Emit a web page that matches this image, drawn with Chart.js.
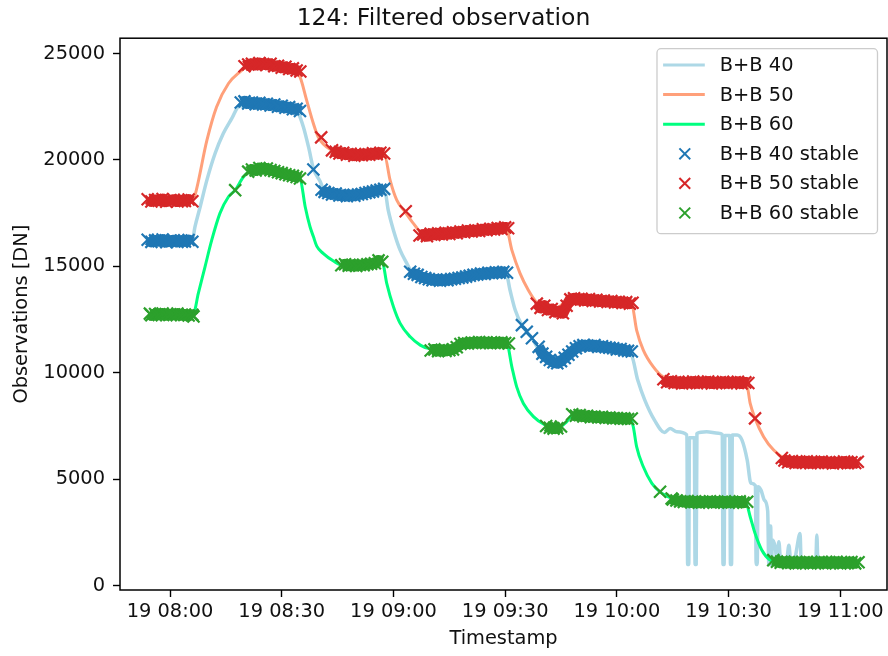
<!DOCTYPE html>
<html>
<head>
<meta charset="utf-8">
<script src="https://cdn.jsdelivr.net/npm/chart.js@4.4.1/dist/chart.umd.min.js"></script>
<style>
  html, body { margin: 0; padding: 0; background: #fff; }
  #wrap { width: 888px; height: 656px; }
</style>
</head>
<body>
<div id="wrap"><canvas id="c" width="888" height="656"></canvas></div>
<script>
// ---- Data (time = minutes after midnight, values in DN) ----
const chartTitle = '124: Filtered observation';
const seriesNames = ['B+B 40', 'B+B 50', 'B+B 60'];
const xTickTimes = [480, 510, 540, 570, 600, 630, 660];
const xTickLabels = ['19 08:00', '19 08:30', '19 09:00', '19 09:30', '19 10:00', '19 10:30', '19 11:00'];
const yTickValues = [0, 5000, 10000, 15000, 20000, 25000];

// Continuous (filtered) observation lines
const line40T = [474,486,486.7,488.1,489.9,492.1,494.3,496.6,498.4,505,513,514.5,515.8,517.2,518.5,520.3,521.5,530,537.7,538.6,540.0,541.8,543.6,544.9,552,570.4,571.3,572.7,574.5,575.8,577.2,579.4,583.9,591,603.9,605.6,607.5,610.1,612.8,614.3,616.1,618.8,619.0,619.3,619.5,620.8,621.0,621.3,621.5,624.1,627.3,628.3,628.5,628.8,629.0,630.3,630.5,630.8,631.0,632.3,633.6,635.0,636.0,637.2,637.4,637.7,637.9,638.7,639.6,640.5,640.8,641.1,641.3,641.5,641.8,642.5,643.0,643.5,644.0,645.5,646.2,646.7,647.8,649.2,649.5,653.4,653.7,654.0,664.7];
const line40V = [16200,16250,16860,17800,19050,20300,21240,21950,22490,22650,22400,22180,21560,20610,19600,19000,18550,18350,18500,17640,16700,15760,15140,14740,14350,14550,13890,12950,12240,11930,11620,10990,10440,11300,10800,9660,8720,7780,7200,7390,7230,7080,1000,1000,6950,6950,1000,1000,7150,7230,7160,7100,1000,1000,7050,7050,1000,1000,7080,7080,6840,5900,4810,4700,1000,1000,4650,4490,4020,3500,1000,1000,2800,1000,2150,1830,1200,2070,1100,1100,1900,1150,1300,2450,1050,1050,2380,1050,1000];

const line50T = [474,486,486.7,489.9,492.5,495.7,498.8,500.6,507,513,514.9,516.7,518.5,519.8,523,530,537.7,539.1,540.9,543.1,545.4,547.6,560,570.4,571.8,574.0,576.2,578.5,583,587,604,605.3,607.1,609.8,612.5,620,634.9,635.8,637.1,639.4,642.1,644.8,650,664.7];
const line50V = [18100,18100,18345,20920,22490,23590,24140,24370,24480,24250,23900,22800,21710,21080,20500,20250,20150,19050,18110,17560,17010,16600,16650,16700,15760,14670,13890,13300,12950,13400,13200,12010,11070,10280,9800,9550,9400,8560,7860,7000,6370,6000,5820,5800];

const line60T = [474.6,486.3,487.6,489.4,491.2,493.4,495.7,497.5,499.7,501.0,508,514.9,516.3,517.6,518.5,519.4,521.2,523.9,526.1,537,538.2,540.0,541.8,544.5,547.2,549.4,556,558,570.4,571.8,573.1,574.9,577.6,580.7,583.9,586.5,588.3,603.6,604.4,605.3,607.1,609.4,611.6,614.7,617,634.6,635.8,637.1,638.9,641.1,642.9,664.9];
const line60V = [12750,12800,13730,14980,16230,17490,18270,18580,19200,19400,19500,19150,17800,16860,16400,15950,15600,15250,15060,15200,14200,13100,12320,11690,11300,11150,11080,11350,11400,10280,9340,8560,7940,7550,7390,7700,8050,7860,7470,6530,5590,4810,4410,4100,3950,3900,3240,2460,1680,1210,1130,1100];

// Stable observations (null = gap between stable periods)
const stable40T = [474,475,476,477,478,479,480,481,482,483,484,485,486, 492,
  499,500,501,502,503,504,505,506,507,508,509,510,511,512,513,514,514.9, 517,
  518.5, 519.5,
  520.7,521.5,522.5,523.5,524.5,525.5,526.5,527.5,528.5,529.5,530.5,531.5,532.5,533.5,534.5,535.5,536.5,537.5, 541,
  544.5,545.5,546.5,547.5,548.5,549.5,550.5,551.5,552.5,553.5,554.5,555.5,556.5,557.5,558.5,559.5,560.5,561.5,562.5,563.5,564.5,565.5,566.5,567.5,568.5,569.5,570.5, 573,
  574.5, 575.1, 575.8, 576.5, 577.2, 578,
  579,580,581,582,583,584,585,586,587,588,589,590,591,592,593,594,595,596,597,598,599,600,601,602,603,604];
const stable40V = [16250,16150,16220,16180,16260,16140,16200,16230,16150,16210,16170,16240,16160, null,
  22700,22750,22650,22700,22620,22680,22600,22640,22560,22600,22500,22540,22450,22480,22380,22400,22300, null,
  19550, null,
  18600,18500,18450,18380,18420,18330,18360,18300,18350,18320,18380,18400,18450,18480,18520,18560,18600,18640, null,
  14750,14650,14600,14500,14450,14400,14350,14380,14330,14370,14350,14400,14420,14450,14480,14520,14560,14600,14620,14660,14640,14700,14680,14720,14700,14740,14700, null,
  12240, null, 11930, null, 11620, null,
  11220,10900,10750,10600,10500,10450,10550,10700,10850,11000,11150,11250,11300,11280,11250,11300,11220,11250,11200,11180,11150,11100,11120,11050,11030,11000];

const stable50T = [474,475,476,477,478,479,480,481,482,483,484,485,486, 493,
  500,501,502,503,504,505,506,507,508,509,510,511,512,513,514,515, 518,
  520.6, 522,
  523.5,524.5,525.5,526.5,527.5,528.5,529.5,530.5,531.5,532.5,533.5,534.5,535.5,536.5,537.5, 540,
  543.3, 545,
  547,548,549,550,551,552,553,554,555,556,557,558,559,560,561,562,563,564,565,566,567,568,569,570,570.8, 574,
  578.5,579.5,580.5,581.5,582.5,583.5,584.5,585.5,586.5,587.5,588.5,589.5,590.5,591.5,592.5,593.5,594.5,595.5,596.5,597.5,598.5,599.5,600.5,601.5,602.5,603.5,604.2, 608,
  612.5,613.5,614.5,615.5,616.5,617.5,618.5,619.5,620.5,621.5,622.5,623.5,624.5,625.5,626.5,627.5,628.5,629.5,630.5,631.5,632.5,633.5,634.5,635.3, 636,
  637.1, 640,
  644.3,645,646,647,648,649,650,651,652,653,654,655,656,657,658,659,660,661,662,663,664,664.7];
const stable50V = [18150,18050,18120,18080,18160,18040,18100,18130,18050,18110,18070,18140,18060, null,
  24400,24480,24520,24460,24550,24500,24470,24520,24400,24420,24330,24380,24270,24300,24200,24150, null,
  21060, null,
  20450,20380,20300,20340,20250,20290,20200,20260,20220,20280,20240,20310,20270,20340,20300, null,
  17590, null,
  16450,16500,16420,16530,16480,16550,16500,16580,16520,16600,16560,16640,16600,16680,16640,16700,16660,16740,16700,16760,16730,16800,16760,16830,16790, null,
  13250,13050,13150,12950,13000,12850,12900,12800,13150,13450,13500,13420,13480,13400,13460,13380,13430,13350,13400,13330,13370,13300,13340,13280,13320,13250,13290, null,
  9700,9560,9600,9520,9580,9500,9560,9520,9590,9510,9570,9530,9590,9500,9560,9520,9580,9510,9560,9530,9580,9500,9550,9520, null,
  7860, null,
  6000,5880,5800,5850,5760,5830,5780,5840,5750,5820,5770,5830,5760,5810,5740,5800,5770,5830,5750,5800,5760,5820];

const stable60T = [474.6,475,476,477,478,479,480,481,482,483,484,485,486,486.3, 492,
  497.5, 499,
  501,502,503,504,505,506,507,508,509,510,511,512,513,514,514.9, 520,
  526,527,528,529,530,531,532,533,534,535,536,537, 545,
  550,551,552,553,554,555,556,557,558,559,560,561,562,563,564,565,566,567,568,569,570,571, 578,
  581,582,583,584,585, 586.5,
  588,589,590,591,592,593,594,595,596,597,598,599,600,601,602,603,604, 608,
  611.6, 613,
  614.7,615,616,617,618,619,620,621,622,623,624,625,626,627,628,629,630,631,632,633,634,635, 638,
  642,643,644,645,646,647,648,649,650,651,652,653,654,655,656,657,658,659,660,661,662,663,664,664.9];
const stable60V = [12780,12700,12760,12720,12790,12700,12750,12720,12780,12700,12740,12690,12730,12650, null,
  18580, null,
  19450,19550,19500,19620,19560,19600,19520,19480,19420,19380,19330,19280,19250,19200,19130, null,
  15050,15100,15030,15080,15020,15070,15050,15100,15120,15150,15280,15220, null,
  11050,11100,11020,11080,11030,11060,11100,11200,11350,11400,11380,11420,11400,11450,11400,11430,11390,11420,11400,11430,11400,11380, null,
  7500,7420,7380,7400,7480, null,
  8050,7980,8020,7950,7980,7920,7950,7900,7930,7880,7900,7860,7880,7840,7860,7830,7850, null,
  4410, null,
  4100,4050,4000,3960,3930,3980,3910,3960,3900,3950,3920,3970,3900,3950,3910,3960,3900,3940,3920,3960,3900,3940, null,
  1200,1130,1080,1130,1060,1120,1050,1110,1060,1120,1050,1100,1060,1120,1050,1110,1060,1120,1050,1100,1060,1110,1050,1100];

// ---- Styling ----
const FONT = 'DejaVu Sans';
const lineColors = ['#add8e6', '#ffa07a', '#00ff7f'];
const stableColors = ['#1f77b4', '#d62728', '#2ca02c'];

function pts(T, V) { return T.map((t, i) => ({ x: t, y: V[i] })); }

const lineData = [pts(line40T, line40V), pts(line50T, line50V), pts(line60T, line60V)];
const stableData = [pts(stable40T, stable40V), pts(stable50T, stable50V), pts(stable60T, stable60V)];

const datasets = [];
seriesNames.forEach((name, i) => {
  datasets.push({
    label: name, data: lineData[i], kind: 'line',
    borderColor: lineColors[i], backgroundColor: lineColors[i],
    borderWidth: i === 0 ? 3.5 : 3, pointRadius: 0, cubicInterpolationMode: 'monotone',
    borderJoinStyle: 'round', fill: false, order: 6 - i
  });
});
seriesNames.forEach((name, i) => {
  datasets.push({
    label: name + ' stable', data: stableData[i], kind: 'stable',
    borderColor: stableColors[i], backgroundColor: stableColors[i],
    borderWidth: 11, borderJoinStyle: 'round', borderCapStyle: 'butt', tension: 0,
    pointStyle: 'crossRot', pointRadius: 8.5, pointBorderWidth: 2.2,
    pointBorderColor: stableColors[i], fill: false, spanGaps: false, order: 3 - i
  });
});

const framePlugin = {
  id: 'frameAndLegend',
  afterDraw(chart) {
    const ctx = chart.ctx, a = chart.chartArea;
    ctx.save();
    ctx.strokeStyle = '#000';
    ctx.lineWidth = 1.5;
    ctx.strokeRect(a.left, a.top, a.right - a.left, a.bottom - a.top);

    // legend (matplotlib style, upper right)
    const bw = 220.5, bh = 185;
    const bx = a.right - 10 - bw, by = a.top + 10;
    ctx.beginPath();
    if (ctx.roundRect) ctx.roundRect(bx + 0.5, by + 0.5, bw, bh, 4); else ctx.rect(bx + 0.5, by + 0.5, bw, bh);
    ctx.fillStyle = 'rgba(255,255,255,0.8)';
    ctx.fill();
    ctx.strokeStyle = '#cccccc';
    ctx.lineWidth = 1.3;
    ctx.stroke();

    const ds = chart.data.datasets;
    ctx.font = '19.4px "' + FONT + '"';
    ctx.textBaseline = 'middle';
    ctx.textAlign = 'left';
    ds.forEach((d, i) => {
      const y = by + 16.8 + i * 29.6;
      if (d.kind === 'line') {
        ctx.strokeStyle = d.borderColor;
        ctx.lineWidth = 3;
        ctx.beginPath();
        ctx.moveTo(bx + 6.6, y);
        ctx.lineTo(bx + 48.3, y);
        ctx.stroke();
      } else {
        const cx = bx + 28.3, r = 5.4;
        ctx.strokeStyle = d.borderColor;
        ctx.lineWidth = 2;
        ctx.beginPath();
        ctx.moveTo(cx - r, y - r); ctx.lineTo(cx + r, y + r);
        ctx.moveTo(cx - r, y + r); ctx.lineTo(cx + r, y - r);
        ctx.stroke();
      }
      ctx.fillStyle = '#111';
      ctx.fillText(d.label, bx + 63.3, y + 1);
    });
    ctx.restore();
  }
};

new Chart(document.getElementById('c'), {
  type: 'line',
  data: { datasets },
  plugins: [framePlugin],
  options: {
    responsive: false,
    devicePixelRatio: 1,
    animation: false,
    events: [],
    layout: { autoPadding: false, padding: { left: 0, right: 1, top: 0, bottom: 0 } },
    plugins: {
      legend: { display: false },
      tooltip: { enabled: false },
      title: {
        display: true, text: chartTitle, color: '#111',
        font: { family: FONT, size: 23.5, weight: 'normal' },
        padding: { top: 5, bottom: 5 }
      }
    },
    scales: {
      x: {
        type: 'linear', min: 466.57, max: 672.54, bounds: 'data',
        afterFit: (s) => { s.height = 66; s.paddingLeft = 0; s.paddingRight = 0; },
        afterBuildTicks: (s) => { s.ticks = xTickTimes.map(v => ({ value: v })); },
        grid: { display: true, drawOnChartArea: false, drawTicks: true, tickLength: 7, tickWidth: 1.4, tickColor: '#000' },
        border: { display: false },
        ticks: {
          autoSkip: false, maxRotation: 0, padding: 3, color: '#111',
          font: { family: FONT, size: 19.4 },
          callback: (v) => { const k = xTickTimes.indexOf(v); return k >= 0 ? xTickLabels[k] : ''; }
        },
        title: { display: true, text: 'Timestamp', color: '#111', font: { family: FONT, size: 19.4 }, padding: { top: 0, bottom: 5 } }
      },
      y: {
        type: 'linear', min: -202, max: 25718, bounds: 'data',
        afterFit: (s) => { s.width = 120; s.paddingTop = 0; s.paddingBottom = 0; },
        afterBuildTicks: (s) => { s.ticks = yTickValues.map(v => ({ value: v })); },
        grid: { display: true, drawOnChartArea: false, drawTicks: true, tickLength: 7, tickWidth: 1.4, tickColor: '#000' },
        border: { display: false },
        ticks: {
          padding: 8, color: '#111', font: { family: FONT, size: 19.4 },
          callback: (v) => String(v)
        },
        title: { display: true, text: 'Observations [DN]', color: '#111', font: { family: FONT, size: 19.4 }, padding: { top: 10, bottom: 0 } }
      }
    }
  }
});
</script>
</body>
</html>
